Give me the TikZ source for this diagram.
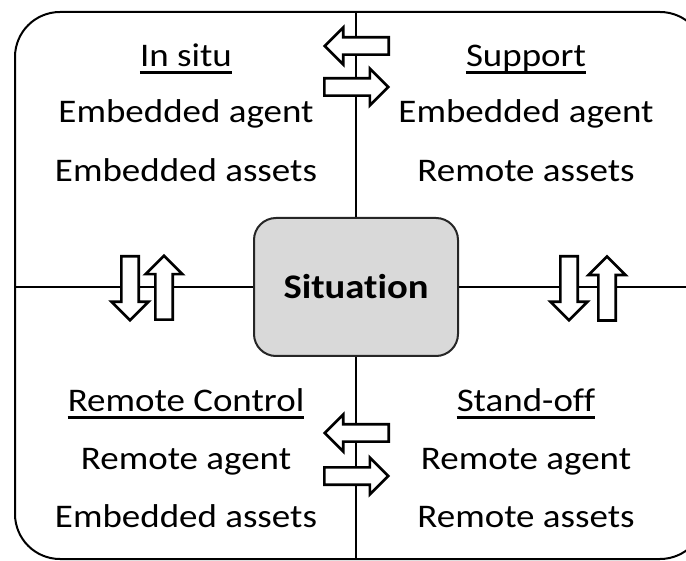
\documentclass[tikz,border=0pt]{standalone}
\usepackage{fontspec}
\setmainfont{Carlito}[FakeStretch=1.12, Ligatures={NoCommon,NoContextual}]
\definecolor{boxgray}{HTML}{D9D9D9}
\tikzset{
  frame/.style={line width=2pt, draw=black},
  divider/.style={line width=2pt, draw=black},
  label/.style={inner sep=0pt, anchor=base, font=\fontsize{33}{40}\selectfont},
  uline/.style={line width=2.2pt},
  arrowshape/.style={draw=black, fill=white, line width=2.6pt},
  situation/.style={draw=black!85, fill=boxgray, line width=2pt, rounded corners=22pt,
    minimum width=204pt, minimum height=138pt, font=\fontsize{34.5}{40}\selectfont\bfseries},
  pics/arrowright/.style={code={\draw[arrowshape] (0,-8.7) -- (45.5,-8.7) -- (45.5,-18.5)
      -- (64,0) -- (45.5,18.5) -- (45.5,8.7) -- (0,8.7) -- cycle;}},
  pics/arrowleft/.style={code={\draw[arrowshape] (0,-8.7) -- (-45.5,-8.7) -- (-45.5,-18.5)
      -- (-64,0) -- (-45.5,18.5) -- (-45.5,8.7) -- (0,8.7) -- cycle;}},
  pics/arrowdown/.style={code={\draw[arrowshape] (-8.7,0) -- (-8.7,45.5) -- (-18.5,45.5)
      -- (0,64) -- (18.5,45.5) -- (8.7,45.5) -- (8.7,0) -- cycle;}},
  pics/arrowup/.style={code={\draw[arrowshape] (-8.7,0) -- (-8.7,-45.5) -- (-18.5,-45.5)
      -- (0,-64) -- (18.5,-45.5) -- (8.7,-45.5) -- (8.7,0) -- cycle;}},
}
\begin{document}
\begin{tikzpicture}[x=1pt, y=-1pt]
  \useasboundingbox (0,0) rectangle (686,561);
  \clip (0,0) rectangle (686,561);

  % outer frame (its right side runs past the page edge)
  \draw[frame, rounded corners=45pt] (15,12) rectangle (705,559);

  % centre box
  \node[situation] (sit) at (356,287) {Situation};

  % frame points where the dividers meet the border
  \coordinate (topmid) at (356,12);
  \coordinate (botmid) at (356,559);
  \coordinate (leftmid) at (15,287);
  \coordinate (rightmid) at (705,287);

  \draw[divider] (topmid) -- (sit.north);
  \draw[divider] (sit.south) -- (botmid);
  \draw[divider] (leftmid) -- (sit.west);
  \draw[divider] (sit.east) -- (rightmid);

  % block arrows across the dividers
  \pic at (388.7,46) {arrowleft};
  \pic at (324.3,87) {arrowright};
  \pic at (388.7,433) {arrowleft};
  \pic at (324.3,476) {arrowright};
  \pic at (130,256.3) {arrowdown};
  \pic at (164,319.7) {arrowup};
  \pic at (569,256.3) {arrowdown};
  \pic at (607,320.5) {arrowup};

  % quadrant texts
  \node[label] (tlt) at (186,67) {In situ};
  \node[label] (tla) at (186,123) {Embedded agent};
  \node[label] (tlb) at (186,182) {Embedded assets};

  \node[label] (trt) at (526,67) {Support};
  \node[label] (tra) at (526,123) {Embedded agent};
  \node[label] (trb) at (526,182) {Remote assets};

  \node[label] (blt) at (186,412) {Remote Control};
  \node[label] (bla) at (186,470) {Remote agent};
  \node[label] (blb) at (186,527) {Embedded assets};

  \node[label] (brt) at (526,412) {Stand-off};
  \node[label] (bra) at (526,470) {Remote agent};
  \node[label] (brb) at (526,527) {Remote assets};

  % title underlines
  \foreach \t in {tlt,trt,blt,brt}
    \draw[uline] ([yshift=-5.5pt]\t.base west) -- ([yshift=-5.5pt]\t.base east);
\end{tikzpicture}
\end{document}
